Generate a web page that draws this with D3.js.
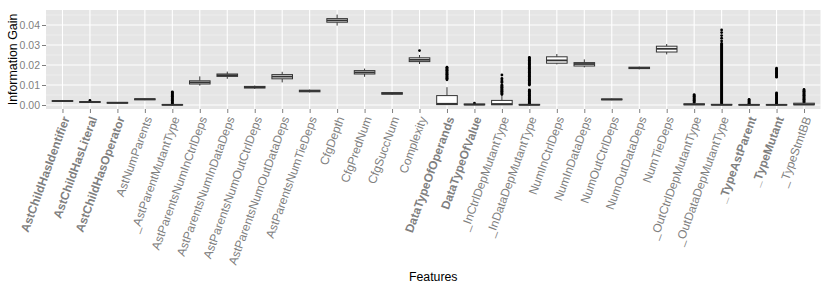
<!DOCTYPE html>
<html>
<head>
<meta charset="utf-8">
<script src="https://cdn.jsdelivr.net/npm/d3@7"></script>
<style>
  body { margin: 0; background: #fff; }
  svg { display: block; font-family: "Liberation Sans", Arial, sans-serif; }
</style>
</head>
<body>
<div id="chart"></div>
<script>
const features = [
  'AstChildHasIdentifier', 'AstChildHasLiteral', 'AstChildHasOperator', 'AstNumParents',
  '_AstParentMutantType', 'AstParentsNumInCtrlDeps', 'AstParentsNumInDataDeps',
  'AstParentsNumOutCtrlDeps', 'AstParentsNumOutDataDeps', 'AstParentsNumTieDeps',
  'CfgDepth', 'CfgPredNum', 'CfgSuccNum', 'Complexity', 'DataTypeOfOperands',
  'DataTypeOfValue', '_InCtrlDepMutantType', '_InDataDepMutantType', 'NumInCtrlDeps',
  'NumInDataDeps', 'NumOutCtrlDeps', 'NumOutDataDeps', 'NumTieDeps',
  '_OutCtrlDepMutantType', '_OutDataDepMutantType', '_TypeAstParent', '_TypeMutant', '_TypeStmtBB'
];
const boldFeatures = [
  'AstChildHasIdentifier', 'AstChildHasLiteral', 'AstChildHasOperator',
  'DataTypeOfOperands', 'DataTypeOfValue', '_TypeAstParent', '_TypeMutant'
];

// box statistics, one entry per feature
const whiskerLow = [0.0016, 0.0011, 0.0007, 0.0024, 0, 0.0097, 0.0131, 0.0081, 0.0113, 0.0063,
  0.0397, 0.0141, 0.0051, 0.0205, 0, 0, 0, 0, 0.0203, 0.0188, 0.0024, 0.0178, 0.0253,
  0, 0, 0, 0, 0];
const q1 = [0.0018, 0.0013, 0.0009, 0.0026, 0, 0.0105, 0.0143, 0.0085, 0.0131, 0.0066,
  0.0414, 0.0155, 0.0054, 0.0217, 0.0002, 0.0001, 0.0001, 0, 0.0209, 0.0195, 0.0026, 0.0182, 0.0265,
  0.0001, 0, 0, 0, 0.0001];
const median = [0.002, 0.0015, 0.0011, 0.0029, 0.0001, 0.0113, 0.0149, 0.0089, 0.0142, 0.007,
  0.0423, 0.0163, 0.0058, 0.0226, 0.0006, 0.0002, 0.0005, 0.0001, 0.0223, 0.0205, 0.0028, 0.0185, 0.0281,
  0.0003, 0.0001, 0.0001, 0.0001, 0.0003];
const q3 = [0.0022, 0.0017, 0.0013, 0.0031, 0.0002, 0.0121, 0.0155, 0.0093, 0.0152, 0.0074,
  0.0432, 0.0172, 0.0062, 0.0236, 0.0047, 0.0005, 0.0023, 0.0003, 0.0241, 0.0212, 0.003, 0.0189, 0.0294,
  0.0006, 0.0003, 0.0002, 0.0002, 0.0009];
const whiskerHigh = [0.0024, 0.0021, 0.0014, 0.0033, 0.0003, 0.0143, 0.0167, 0.0097, 0.0166, 0.0077,
  0.0452, 0.0182, 0.0065, 0.025, 0.0089, 0.0007, 0.005, 0.0004, 0.0255, 0.0228, 0.0032, 0.0192, 0.0305,
  0.001, 0.0006, 0.0004, 0.0004, 0.0012];

// outliers, keyed by feature
const outliers = {
  'AstChildHasLiteral': [0.0023],
  '_AstParentMutantType': [0.0004, 0.0008, 0.0012, 0.0016, 0.002, 0.0024, 0.0028, 0.0032, 0.0036,
    0.004, 0.0044, 0.0048, 0.0052, 0.0056, 0.006, 0.0063, 0.0066],
  'Complexity': [0.0272],
  'DataTypeOfOperands': [0.0126, 0.013, 0.0134, 0.0138, 0.0142, 0.0146, 0.015, 0.0154, 0.0158,
    0.0162, 0.0166, 0.017, 0.0174, 0.0178, 0.0182, 0.0186, 0.0189],
  'DataTypeOfValue': [0.0009],
  '_InCtrlDepMutantType': [0.0053, 0.0057, 0.0061, 0.0065, 0.0069, 0.0073, 0.0077, 0.0081, 0.0085,
    0.0089, 0.0093, 0.0097, 0.0101, 0.0112, 0.0118, 0.0125, 0.0133, 0.015],
  '_InDataDepMutantType': [0.0005, 0.0009, 0.0013, 0.0017, 0.0021, 0.0025, 0.0029, 0.0033, 0.0037,
    0.0041, 0.0045, 0.0049, 0.0053, 0.0057, 0.0061, 0.0065, 0.0069, 0.0073, 0.0075,
    0.01, 0.0104, 0.0108, 0.0112, 0.0116, 0.012, 0.0124, 0.0128, 0.0132, 0.0136, 0.014, 0.0144,
    0.0148, 0.0152, 0.0156, 0.016, 0.0164, 0.0168, 0.0172, 0.0176, 0.018, 0.0184, 0.0188, 0.0192,
    0.0196, 0.02, 0.0204, 0.0208, 0.0212, 0.0216, 0.022, 0.0224, 0.0228, 0.0232, 0.0236, 0.0238],
  '_OutCtrlDepMutantType': [0.0012, 0.0016, 0.002, 0.0024, 0.0028, 0.0032, 0.0036, 0.004, 0.0044,
    0.0048, 0.0052],
  '_OutDataDepMutantType': [0.0008, 0.0013, 0.0018, 0.0023, 0.0028, 0.0033, 0.0038, 0.0043, 0.0048,
    0.0053, 0.0058, 0.0063, 0.0068, 0.0073, 0.0078, 0.0083, 0.0088, 0.0093, 0.0098, 0.0103, 0.0108,
    0.0113, 0.0118, 0.0123, 0.0128, 0.0133, 0.0138, 0.0143, 0.0148, 0.0153, 0.0158, 0.0163, 0.0168,
    0.0173, 0.0178, 0.0183, 0.0188, 0.0193, 0.0198, 0.0203, 0.0208, 0.0213, 0.0218, 0.0223, 0.0228,
    0.0233, 0.0238, 0.0243, 0.0248, 0.0253, 0.0258, 0.0263, 0.0268, 0.0273, 0.0278, 0.0283, 0.0288,
    0.0293, 0.0298, 0.0303, 0.0308, 0.032, 0.0334, 0.0347, 0.0362, 0.0375],
  '_TypeAstParent': [0.0005, 0.0009, 0.0013, 0.0017, 0.0021, 0.0025, 0.0028],
  '_TypeMutant': [0.0005, 0.0009, 0.0013, 0.0017, 0.0021, 0.0025, 0.0029, 0.0033, 0.0037, 0.0041,
    0.0045, 0.0049, 0.0053, 0.0057, 0.0061,
    0.0139, 0.0143, 0.0147, 0.0151, 0.0155, 0.0159, 0.0163, 0.0167, 0.0171, 0.0175, 0.0179, 0.0184],
  '_TypeStmtBB': [0.0013, 0.0017, 0.0021, 0.0025, 0.0029, 0.0033, 0.0037, 0.0041, 0.0045, 0.0049,
    0.0053, 0.0057, 0.0061, 0.0065, 0.0069, 0.0073, 0.0078]
};

const yTicks = [0, 0.01, 0.02, 0.03, 0.04];
const yMinorTicks = [0.005, 0.015, 0.025, 0.035, 0.045];

const width = 830;
const height = 290;
const panel = {left: 46, right: 820.5, top: 10, bottom: 109};

const svg = d3.select('#chart')
  .append('svg')
    .attr('width', width)
    .attr('height', height);

const x = d3.scalePoint()
  .domain(features)
  .range([panel.left, panel.right])
  .padding(0.6);

const y = d3.scaleLinear()
  .domain([-0.002, 0.0475])
  .range([panel.bottom, panel.top]);

const boxWidth = x.step() * 0.75;

// panel background and grid
svg.append('rect')
  .attr('x', panel.left)
  .attr('y', panel.top)
  .attr('width', panel.right - panel.left)
  .attr('height', panel.bottom - panel.top)
  .attr('fill', '#e5e5e5');

svg.append('g')
  .selectAll('line')
  .data(yMinorTicks)
  .join('line')
    .attr('x1', panel.left)
    .attr('x2', panel.right)
    .attr('y1', d => y(d))
    .attr('y2', d => y(d))
    .attr('stroke', '#f2f2f2')
    .attr('stroke-width', 0.6);

svg.append('g')
  .selectAll('line')
  .data(yTicks)
  .join('line')
    .attr('x1', panel.left)
    .attr('x2', panel.right)
    .attr('y1', d => y(d))
    .attr('y2', d => y(d))
    .attr('stroke', '#fff')
    .attr('stroke-width', 1.1);

svg.append('g')
  .selectAll('line')
  .data(features)
  .join('line')
    .attr('x1', d => x(d))
    .attr('x2', d => x(d))
    .attr('y1', panel.top)
    .attr('y2', panel.bottom)
    .attr('stroke', '#fff')
    .attr('stroke-width', 1.1);

// boxplots
const stats = features.map((f, i) => ({
  feature: f,
  lo: whiskerLow[i],
  q1: q1[i],
  med: median[i],
  q3: q3[i],
  hi: whiskerHigh[i],
  out: outliers[f] || []
}));

const boxes = svg.append('g')
  .selectAll('g')
  .data(stats)
  .join('g')
    .attr('transform', d => `translate(${x(d.feature)},0)`);

boxes.append('line')
  .attr('y1', d => y(d.hi))
  .attr('y2', d => y(d.q3))
  .attr('stroke', '#333')
  .attr('stroke-width', 1);

boxes.append('line')
  .attr('y1', d => y(d.lo))
  .attr('y2', d => y(d.q1))
  .attr('stroke', '#333')
  .attr('stroke-width', 1);

boxes.selectAll('circle')
  .data(d => d.out)
  .join('circle')
    .attr('cx', 0)
    .attr('cy', d => y(d))
    .attr('r', 1.4)
    .attr('fill', '#000');

boxes.append('rect')
  .attr('x', -boxWidth / 2)
  .attr('width', boxWidth)
  .attr('y', d => y(d.q3))
  .attr('height', d => Math.max(y(d.q1) - y(d.q3), 0.5))
  .attr('fill', '#fff')
  .attr('stroke', '#333')
  .attr('stroke-width', 1);

boxes.append('line')
  .attr('x1', -boxWidth / 2)
  .attr('x2', boxWidth / 2)
  .attr('y1', d => y(d.med))
  .attr('y2', d => y(d.med))
  .attr('stroke', '#333')
  .attr('stroke-width', 1.8);

// axes
const yAxis = d3.axisLeft(y)
  .tickValues(yTicks)
  .tickFormat(d3.format('.2f'))
  .tickSize(4)
  .tickPadding(2);

const xAxis = d3.axisBottom(x)
  .tickSize(4)
  .tickPadding(2);

const yg = svg.append('g')
  .attr('transform', `translate(${panel.left},0)`)
  .call(yAxis);

yg.select('.domain').remove();
yg.selectAll('line').attr('stroke', '#7f7f7f');
yg.selectAll('text')
  .attr('fill', '#7f7f7f')
  .style('font-size', '10.5px');

const xg = svg.append('g')
  .attr('transform', `translate(0,${panel.bottom})`)
  .call(xAxis);

xg.select('.domain').remove();
xg.selectAll('line').attr('stroke', '#7f7f7f');
xg.selectAll('text')
  .attr('fill', '#7f7f7f')
  .attr('x', 0)
  .attr('y', 0)
  .attr('dy', '0.35em')
  .attr('text-anchor', 'end')
  .attr('transform', 'translate(3,8) rotate(-70)')
  .style('font-size', '12px')
  .style('font-weight', d => boldFeatures.includes(d) ? 'bold' : 'normal');

// axis titles
svg.append('text')
  .attr('x', (panel.left + panel.right) / 2)
  .attr('y', 281)
  .attr('text-anchor', 'middle')
  .style('font-size', '12.3px')
  .text('Features');

svg.append('text')
  .attr('transform', `translate(17,${(panel.top + panel.bottom) / 2}) rotate(-90)`)
  .attr('text-anchor', 'middle')
  .style('font-size', '12.4px')
  .text('Information Gain');
</script>
</body>
</html>
